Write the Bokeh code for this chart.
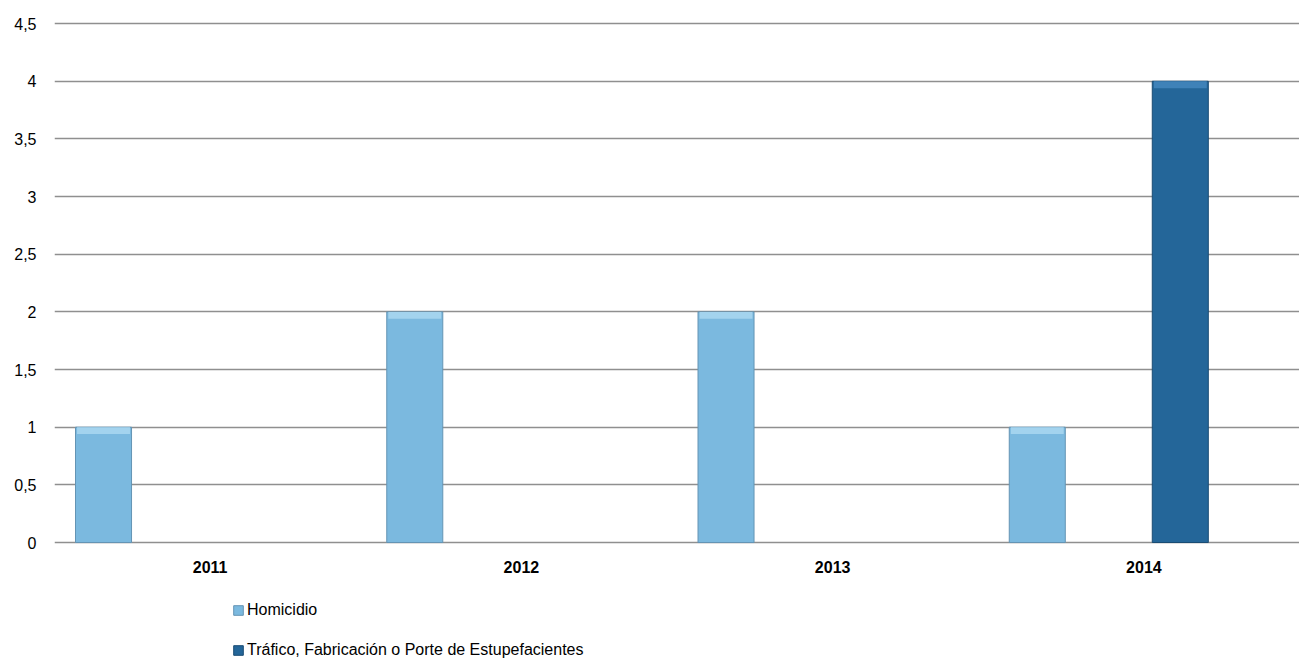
from bokeh.plotting import figure
from bokeh.models import FactorRange, Range1d, FixedTicker, Legend, LegendItem, ColumnDataSource
from bokeh.transform import dodge
from bokeh.embed import file_html
from bokeh.resources import INLINE

years = ["2011", "2012", "2013", "2014"]
homicidio = [1, 2, 2, 1]
trafico = [0, 0, 0, 4]
series_names = ["Homicidio", "Tráfico, Fabricación o Porte de Estupefacientes"]
y_ticks = [0, 0.5, 1, 1.5, 2, 2.5, 3, 3.5, 4, 4.5]
y_tick_labels = ["0", "0,5", "1", "1,5", "2", "2,5", "3", "3,5", "4", "4,5"]

FONT = "Liberation Sans, Arial, sans-serif"
BEVEL = 0.06

hom_src = ColumnDataSource(dict(year=years, top=homicidio,
                                hl_bottom=[v - BEVEL for v in homicidio]))
tra_years = [y for y, v in zip(years, trafico) if v > 0]
tra_vals = [v for v in trafico if v > 0]
tra_src = ColumnDataSource(dict(year=tra_years, top=tra_vals,
                                hl_bottom=[v - BEVEL for v in tra_vals]))

# frame spans the whole height; the region below y=0 holds the category labels and legend
p = figure(x_range=FactorRange(*years, range_padding=0), y_range=Range1d(-1.023, 4.596),
           width=1299, height=660, output_backend="svg", toolbar_location=None,
           min_border_left=54, min_border_right=0, min_border_top=12, min_border_bottom=0)
p.outline_line_color = None
p.background_fill_color = "white"

hx = dodge("year", -0.3425, range=p.x_range)
tx = dodge("year", 0.117, range=p.x_range)

r1 = p.vbar(x=hx, top="top", width=0.18, source=hom_src,
            fill_color="#7BB9DF", line_color="#6494B4", line_width=1)
p.vbar(x=hx, top="top", bottom="hl_bottom", width=0.17, source=hom_src,
       fill_color="#A3D3EE", line_color=None)
r2 = p.vbar(x=tx, top="top", width=0.18, source=tra_src,
            fill_color="#246699", line_color="#1A4C73", line_width=1)
p.vbar(x=tx, top="top", bottom="hl_bottom", width=0.17, source=tra_src,
       fill_color="#3F82B8", line_color=None)

p.xgrid.grid_line_color = None
p.ygrid.grid_line_color = "#8F8F8F"
p.ygrid.grid_line_width = 1.5
p.ygrid.ticker = FixedTicker(ticks=y_ticks)
p.ygrid.level = "underlay"

p.yaxis.ticker = FixedTicker(ticks=y_ticks)
p.yaxis.major_label_overrides = {t: l for t, l in zip(y_ticks, y_tick_labels)}
p.yaxis.axis_line_color = None
p.yaxis.major_tick_line_color = None
p.yaxis.minor_tick_line_color = None
p.yaxis.major_tick_out = 0
p.yaxis.major_label_standoff = 18
p.yaxis.major_label_text_font = FONT
p.yaxis.major_label_text_font_size = "16px"
p.yaxis.major_label_text_color = "#000000"

p.xaxis.fixed_location = 0
p.xaxis.axis_line_color = None
p.xaxis.major_tick_line_color = None
p.xaxis.major_tick_out = 0
p.xaxis.major_label_standoff = 18
p.xaxis.major_label_text_font = FONT
p.xaxis.major_label_text_font_size = "16px"
p.xaxis.major_label_text_font_style = "bold"
p.xaxis.major_label_text_color = "#000000"

legend = Legend(items=[LegendItem(label=series_names[0], renderers=[r1]),
                       LegendItem(label=series_names[1], renderers=[r2])],
                location=(178, 0), orientation="vertical",
                padding=0, margin=0, spacing=20, label_height=20, glyph_height=12, glyph_width=12,
                label_standoff=3, border_line_color=None, background_fill_alpha=0,
                label_text_font=FONT, label_text_font_size="16px", label_text_color="#000000")
p.add_layout(legend, "center")

open("out.html", "w").write(file_html(p, INLINE))
